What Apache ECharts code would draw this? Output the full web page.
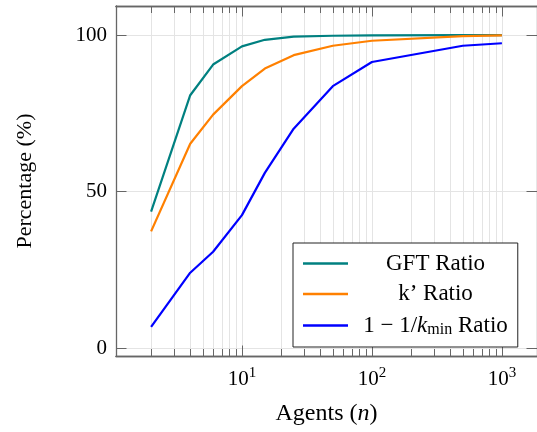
<!DOCTYPE html>
<html>
<head>
<meta charset="utf-8">
<script src="https://cdn.jsdelivr.net/npm/echarts@6/dist/echarts.min.js"></script>
<style>html,body{margin:0;padding:0;background:#fff}#c{width:537px;height:432px}</style>
</head>
<body>
<div id="c"></div>
<script>
// ---- data ----
const agents = [2, 4, 6, 10, 15, 25, 50, 100, 500, 1000];
const gftRatio = [43.6, 80.8, 90.6, 96.4, 98.5, 99.5, 99.8, 99.9, 100, 100];
const kPrimeRatio = [37.3, 65.3, 74.6, 83.7, 89.3, 93.6, 96.6, 98.2, 99.7, 99.9];
const kMinRatio = [6.8, 24.1, 30.8, 42.5, 56.0, 70.1, 83.7, 91.4, 96.6, 97.4];
const seriesNames = ['GFT Ratio', 'k\u2019 Ratio', '1 \u2212 1/kmin Ratio'];
const xMajorTicks = [10, 100, 1000];
const xMinorTicks = [2, 3, 4, 5, 6, 7, 8, 9, 20, 30, 40, 50, 60, 70, 80, 90, 200, 300, 400, 500, 600, 700, 800, 900];
const yTicks = [0, 50, 100];
const X_MIN = 1.074, X_MAX = 1862;
const Y_MIN = -2.5, Y_MAX = 109.3;

const FONT = '"Liberation Serif", "DejaVu Serif", serif';
const FRAME = '#666';
const GRID = '#e4e4e4';

function pairs(ys) { return agents.map((x, i) => [x, ys[i]]); }

function xAxisBase(pos, ticks, len, showLabels, showSplit) {
  return {
    type: 'log', logBase: 10, position: pos, min: X_MIN, max: X_MAX,
    axisLine: { show: true, onZero: false, lineStyle: { color: FRAME, width: 1.3 } },
    axisTick: { show: true, inside: true, length: len, customValues: ticks, lineStyle: { color: FRAME, width: 1 } },
    splitLine: { show: showSplit, customValues: ticks, lineStyle: { color: GRID, width: 1 } },
    minorTick: { show: false }, minorSplitLine: { show: false },
    axisLabel: showLabels ? {
      show: true, customValues: xMajorTicks, margin: 12,
      formatter: v => '{b|10}{s|' + Math.round(Math.log10(v)) + '}',
      rich: {
        b: { fontFamily: FONT, fontSize: 21, color: '#000', lineHeight: 22 },
        s: { fontFamily: FONT, fontSize: 15, color: '#000', lineHeight: 15, padding: [0, 0, 11, 0] }
      }
    } : { show: false }
  };
}

const option = {
  animation: false,
  backgroundColor: '#fff',
  grid: { left: 116, right: -4, top: 6, bottom: 76, containLabel: false },
  xAxis: [
    Object.assign(xAxisBase('bottom', xMajorTicks, 10.5, true, true), {
      name: 'Agents ({i|n})', nameLocation: 'middle', nameGap: 46,
      nameTextStyle: { fontFamily: FONT, fontSize: 24, color: '#000',
        rich: { i: { fontFamily: FONT, fontSize: 24, fontStyle: 'italic', color: '#000' } } }
    }),
    xAxisBase('bottom', xMinorTicks, 7, false, true),
    xAxisBase('top', xMajorTicks, 10.5, false, false),
    xAxisBase('top', xMinorTicks, 7, false, false)
  ],
  yAxis: [
    {
      type: 'value', position: 'left', min: Y_MIN, max: Y_MAX,
      name: 'Percentage (%)', nameLocation: 'middle', nameGap: 80, nameRotate: 90,
      nameTextStyle: { fontFamily: FONT, fontSize: 22, color: '#000' },
      axisLine: { show: true, onZero: false, lineStyle: { color: FRAME, width: 1.3 } },
      axisTick: { show: true, inside: true, length: 10.5, customValues: yTicks, lineStyle: { color: FRAME } },
      splitLine: { show: true, customValues: yTicks, lineStyle: { color: GRID, width: 1 } },
      axisLabel: { show: true, customValues: yTicks, margin: 9, fontFamily: FONT, fontSize: 21, color: '#000' }
    },
    {
      type: 'value', position: 'right', min: Y_MIN, max: Y_MAX,
      axisLine: { show: true, onZero: false, lineStyle: { color: FRAME, width: 1.3 } },
      axisTick: { show: true, inside: true, length: 10.5, customValues: yTicks, lineStyle: { color: FRAME } },
      splitLine: { show: false },
      axisLabel: { show: false }
    }
  ],
  legend: {
    orient: 'vertical', left: 293, top: 243,
    icon: 'rect', itemWidth: 45, itemHeight: 2.5, itemGap: 7.5,
    padding: [9, 10, 9, 10],
    borderColor: '#222', borderWidth: 1, borderRadius: 0, backgroundColor: '#fff',
    data: seriesNames,
    formatter: function (name) {
      if (name === seriesNames[2]) return '{t|1 \u2212 1/}{i|k}{s|min}{t| Ratio}';
      return '{t|' + name + '}';
    },
    textStyle: {
      width: 165, fontFamily: FONT, fontSize: 23, color: '#000',
      rich: {
        t: { fontFamily: FONT, fontSize: 23, lineHeight: 23, align: 'center', color: '#000' },
        i: { fontFamily: FONT, fontSize: 23, lineHeight: 23, fontStyle: 'italic', align: 'center', color: '#000' },
        s: { fontFamily: FONT, fontSize: 16, lineHeight: 16, align: 'center', color: '#000', padding: [9, 0, 0, 0] }
      }
    }
  },
  series: [
    { name: seriesNames[0], type: 'line', xAxisIndex: 0, yAxisIndex: 0, data: pairs(gftRatio),
      symbol: 'none', color: '#008080', lineStyle: { color: '#008080', width: 2.2 } },
    { name: seriesNames[1], type: 'line', xAxisIndex: 0, yAxisIndex: 0, data: pairs(kPrimeRatio),
      symbol: 'none', color: '#ff8000', lineStyle: { color: '#ff8000', width: 2.2 } },
    { name: seriesNames[2], type: 'line', xAxisIndex: 0, yAxisIndex: 0, data: pairs(kMinRatio),
      symbol: 'none', color: '#0000ff', lineStyle: { color: '#0000ff', width: 2.2 } }
  ]
};

const chart = echarts.init(document.getElementById('c'), null, { renderer: 'canvas' });
chart.setOption(option);
</script>
</body>
</html>
